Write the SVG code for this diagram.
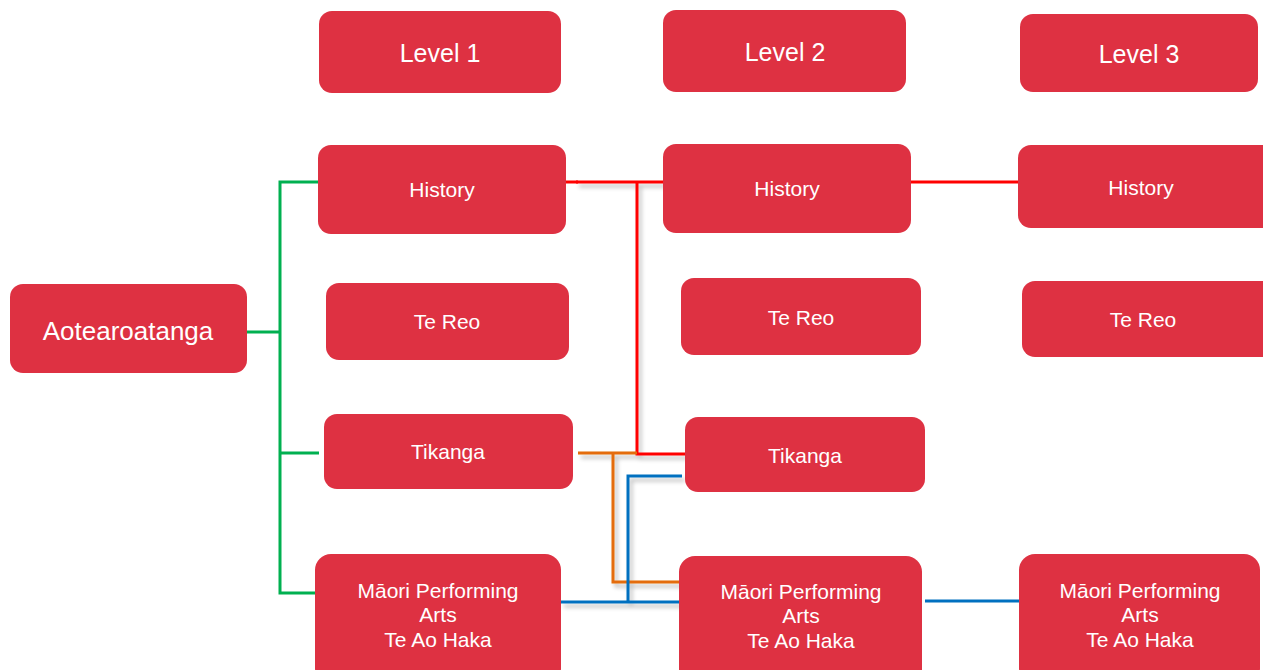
<svg xmlns="http://www.w3.org/2000/svg" width="1263" height="670" viewBox="0 0 1263 670">
<defs>
<style>
.n{fill:#DE3142;}
.t{fill:#ffffff;font-family:"Liberation Sans",Arial,sans-serif;text-anchor:middle;font-size:21px;}
.h{font-size:25px;}
.a{font-size:26px;}
.c{fill:none;stroke-width:3;stroke-linejoin:miter;}
.g{stroke:#00B050;}
.r{stroke:#FF0000;}
.o{stroke:#E46C0A;}
.b{stroke:#0070C0;}
</style>
<filter id="sh" x="-10%" y="-10%" width="130%" height="130%">
<feGaussianBlur in="SourceAlpha" stdDeviation="2"/>
<feOffset dx="3" dy="4" result="o"/>
<feComponentTransfer><feFuncA type="linear" slope="0.25"/></feComponentTransfer>
<feMerge><feMergeNode/><feMergeNode in="SourceGraphic"/></feMerge>
</filter>
</defs>
<rect width="1263" height="670" fill="#ffffff"/>
<g id="connectors">
<path class="c g" d="M246,332 H280 M321,182 H280 V593 H316 M280,453 H319"/>
<g filter="url(#sh)">
<path class="c r" d="M576,182 H663 M637,182 V454 H685"/>
<path class="c o" d="M578,453 H637 M613,453 V582 H680"/>
<path class="c b" d="M561,602 H680 M628,602 V476 H682"/>
</g>
<path class="c r" d="M561,182 H578" stroke-width="2"/>
<path class="c r" d="M911,182 H1028"/>
<path class="c b" d="M925,601 H1020"/>
</g>
<g id="level1"><rect class="n" x="319" y="11" width="242" height="82" rx="13"/><text class="t h" x="440" y="62">Level 1</text></g>
<g id="level2"><rect class="n" x="663" y="10" width="243" height="82" rx="13"/><text class="t h" x="785" y="61">Level 2</text></g>
<g id="level3"><rect class="n" x="1020" y="14" width="238" height="78" rx="13"/><text class="t h" x="1139" y="63">Level 3</text></g>
<g id="aotearoatanga"><rect class="n" x="10" y="284" width="237" height="89" rx="13"/><text class="t a" x="128" y="340">Aotearoatanga</text></g>
<g id="history1"><rect class="n" x="318" y="145" width="248" height="89" rx="13"/><text class="t" x="442" y="197">History</text></g>
<g id="tereo1"><rect class="n" x="326" y="283" width="243" height="77" rx="13"/><text class="t" x="447" y="329">Te Reo</text></g>
<g id="tikanga1"><rect class="n" x="324" y="414" width="249" height="75" rx="13"/><text class="t" x="448" y="459">Tikanga</text></g>
<g id="mpa1"><rect class="n" x="315" y="554" width="246" height="130" rx="16"/><text class="t" x="438" y="598">Māori Performing<tspan x="438" y="622">Arts</tspan><tspan x="438" y="647">Te Ao Haka</tspan></text></g>
<g id="history2"><rect class="n" x="663" y="144" width="248" height="89" rx="13"/><text class="t" x="787" y="196">History</text></g>
<g id="tereo2"><rect class="n" x="681" y="278" width="240" height="77" rx="13"/><text class="t" x="801" y="325">Te Reo</text></g>
<g id="tikanga2"><rect class="n" x="685" y="417" width="240" height="75" rx="13"/><text class="t" x="805" y="463">Tikanga</text></g>
<g id="mpa2"><rect class="n" x="679" y="556" width="243" height="130" rx="16"/><text class="t" x="801" y="599">Māori Performing<tspan x="801" y="623">Arts</tspan><tspan x="801" y="648">Te Ao Haka</tspan></text></g>
<g id="history3"><rect class="n" x="1018" y="145" width="260" height="83" rx="13"/><text class="t" x="1141" y="195">History</text></g>
<g id="tereo3"><rect class="n" x="1022" y="281" width="256" height="76" rx="13"/><text class="t" x="1143" y="327">Te Reo</text></g>
<g id="mpa3"><rect class="n" x="1019" y="554" width="241" height="130" rx="16"/><text class="t" x="1140" y="598">Māori Performing<tspan x="1140" y="622">Arts</tspan><tspan x="1140" y="647">Te Ao Haka</tspan></text></g>
</svg>
